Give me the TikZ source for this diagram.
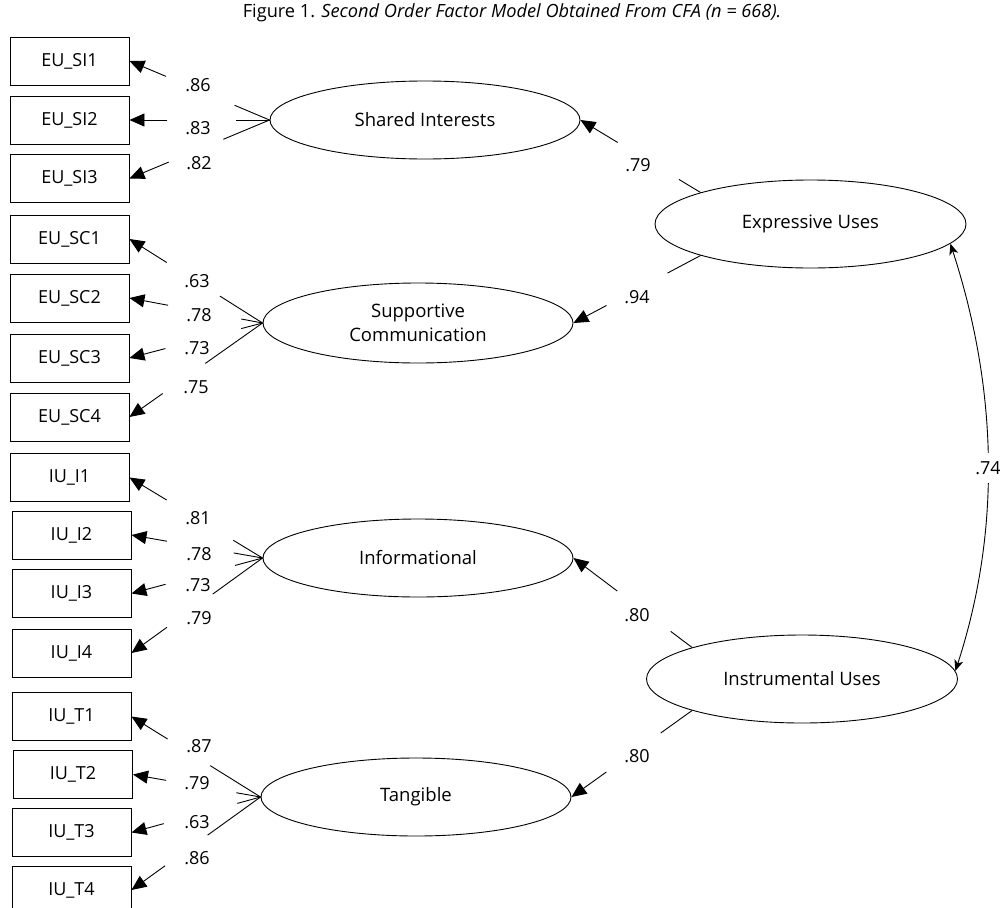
\documentclass[tikz,border=0pt]{standalone}
\usepackage{fontspec}
\setmainfont{Open Sans}
\usetikzlibrary{calc,arrows.meta,shapes.geometric}
\tikzset{
  ind/.style={draw,line width=0.9pt,minimum width=119pt,minimum height=48pt,inner sep=0pt,font=\fontsize{18}{21}\selectfont},
  lat/.style={draw,ellipse,line width=0.9pt,minimum width=310pt,minimum height=78pt,inner sep=0pt,align=center,font=\fontsize{18.5}{24}\selectfont},
  hlat/.style={lat,minimum width=311pt,minimum height=88pt},
  ln/.style={line width=0.9pt},
  tri/.style={-{Triangle[length=15pt,width=13pt]}},
  lab/.style={inner sep=1pt,font=\fontsize{18}{21}\selectfont},
}
\newcommand\ldg[4]{%
  \draw[ln] (#1) -- ($(#1)!#3!(#2)$);
  \draw[ln,tri] ($(#1)!#4!(#2)$) -- (#2);}
\begin{document}
\begin{tikzpicture}[x=1pt,y=-1pt]
\useasboundingbox (0,0) rectangle (1000,907);
\node[font=\fontsize{18.2}{21}\selectfont] (title) at (512,13) {Figure 1. \textit{Second Order Factor Model Obtained From CFA (n = 668).}};
% indicators
\node[ind] (b1) at (69.5,61) {EU\_SI1};
\node[ind] (b2) at (69.5,120) {EU\_SI2};
\node[ind] (b3) at (69.5,178.5) {EU\_SI3};
\node[ind] (b4) at (69.5,239) {EU\_SC1};
\node[ind] (b5) at (69.5,298) {EU\_SC2};
\node[ind] (b6) at (69.5,358) {EU\_SC3};
\node[ind] (b7) at (69.5,417) {EU\_SC4};
\node[ind] (b8) at (69.5,477.5) {IU\_I1};
\node[ind] (b9) at (71.5,535) {IU\_I2};
\node[ind] (b10) at (71.5,593.5) {IU\_I3};
\node[ind] (b11) at (71.5,653) {IU\_I4};
\node[ind] (b12) at (71.5,716.5) {IU\_T1};
\node[ind] (b13) at (73,774.5) {IU\_T2};
\node[ind] (b14) at (71.5,832.5) {IU\_T3};
\node[ind] (b15) at (71.5,890) {IU\_T4};
% first order
\node[lat] (SI) at (425,120) {Shared Interests};
\node[lat,minimum height=80pt] (SC) at (418,323) {Supportive\\Communication};
\node[lat] (INF) at (418,558) {Informational};
\node[lat] (TAN) at (416,797) {Tangible};
% second order
\node[hlat] (EU) at (810.5,224) {Expressive Uses};
\node[hlat] (IU) at (802,679) {Instrumental Uses};
% loadings
\ldg{SI.west}{b1.east}{0.25}{0.74}
\ldg{SI.west}{b2.east}{0.24}{0.73}
\ldg{SI.west}{b3.east}{0.33}{0.72}
\ldg{SC.west}{b4.east}{0.32}{0.72}
\ldg{SC.west}{b5.east}{0.16}{0.71}
\ldg{SC.west}{b6.east}{0.16}{0.73}
\ldg{SC.west}{b7.east}{0.43}{0.75}
\ldg{INF.west}{b8.east}{0.22}{0.72}
\ldg{INF.west}{b9.east}{0.22}{0.73}
\ldg{INF.west}{b10.east}{0.21}{0.74}
\ldg{INF.west}{b11.east}{0.38}{0.73}
\ldg{TAN.west}{b12.east}{0.39}{0.72}
\ldg{TAN.west}{b13.east}{0.19}{0.74}
\ldg{TAN.west}{b14.east}{0.18}{0.75}
\ldg{TAN.west}{b15.east}{0.41}{0.74}
\ldg{EU.164}{SI.east}{0.18}{0.69}
\ldg{EU.196}{SC.east}{0.26}{0.74}
\ldg{IU.164}{INF.east}{0.18}{0.63}
\ldg{IU.196}{TAN.east}{0.26}{0.71}
% labels
\node[lab] (l1) at (198,85) {.86};
\node[lab] (l2) at (198,128) {.83};
\node[lab] (l3) at (199,163) {.82};
\node[lab] (l4) at (197,281) {.63};
\node[lab] (l5) at (199,315) {.78};
\node[lab] (l6) at (197,348) {.73};
\node[lab] (l7) at (196,387) {.75};
\node[lab] (l8) at (198,518) {.81};
\node[lab] (l9) at (199,554) {.78};
\node[lab] (l10) at (198,585) {.73};
\node[lab] (l11) at (199,618) {.79};
\node[lab] (l12) at (199,746) {.87};
\node[lab] (l13) at (197,783) {.79};
\node[lab] (l14) at (197,822) {.63};
\node[lab] (l15) at (197,858) {.86};
\node[lab] (l16) at (638,165) {.79};
\node[lab] (l17) at (637,297) {.94};
\node[lab] (l18) at (637,615) {.80};
\node[lab] (l19) at (637,756) {.80};
% covariance
\draw[ln,{Stealth[length=11pt,width=9pt,inset=3pt]}-{Stealth[length=11pt,width=9pt,inset=3pt]}] (EU.-8) to[out=-72,in=72,looseness=0.9] (IU.3);
\node[lab,fill=white,inner ysep=8pt,inner xsep=2pt] (l20) at (988,468) {.74};
\end{tikzpicture}
\end{document}
